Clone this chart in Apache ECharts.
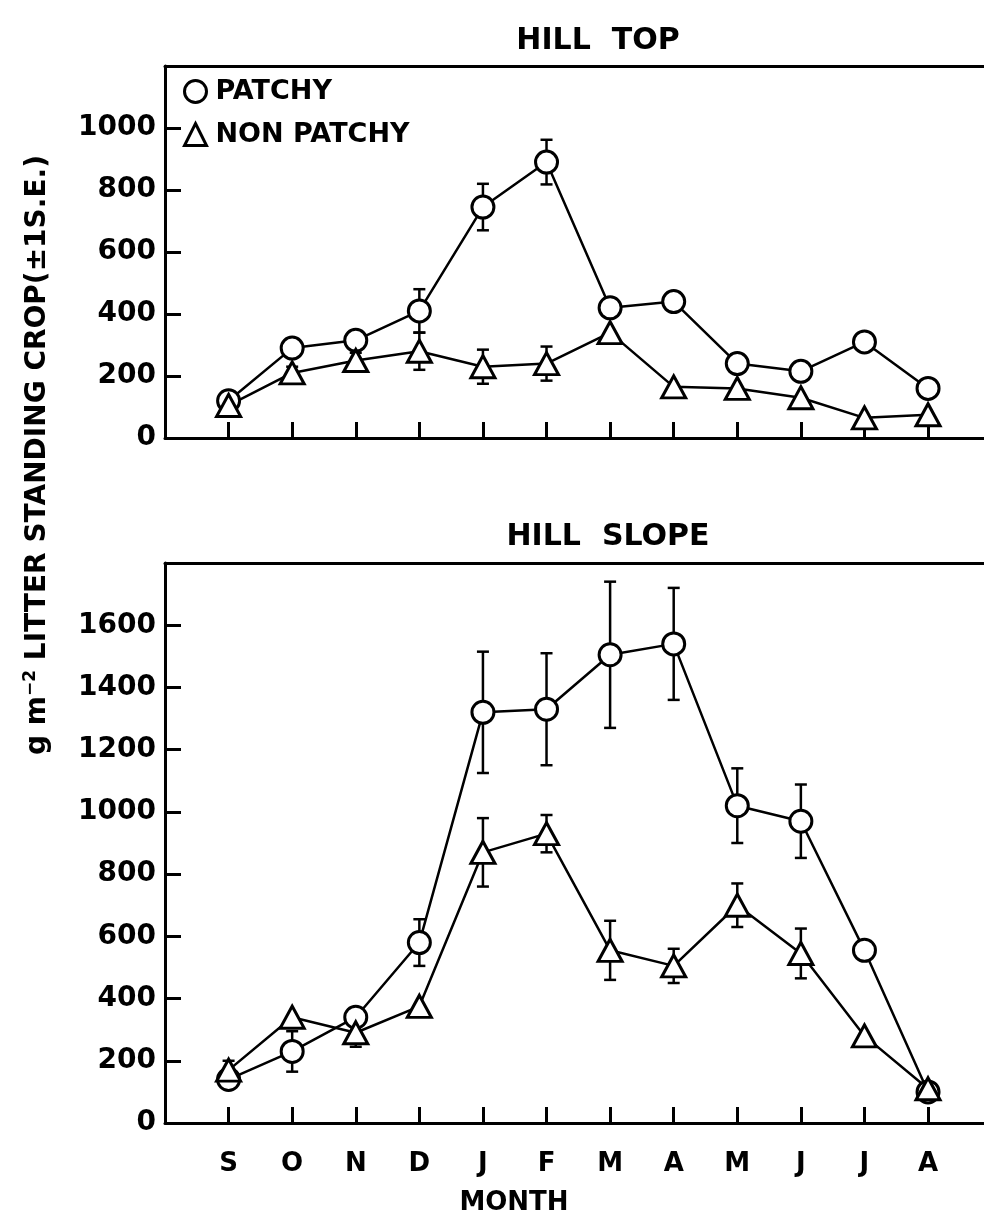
<!DOCTYPE html>
<html><head><meta charset="utf-8">
<script src="https://cdn.jsdelivr.net/npm/echarts@6/dist/echarts.min.js"></script>
<style>html,body{margin:0;padding:0;background:#fff}#c{width:984px;height:1213px}</style>
</head><body><div id="c"></div>
<script>
const months = ['S','O','N','D','J','F','M','A','M','J','J','A'];
const seriesNames = ['PATCHY','NON PATCHY'];
const hillTopPatchy      = [120, 290, 315, 410, 745, 890, 420, 440, 240, 215, 310, 160];
const hillTopPatchySE    = [0, 0, 0, 70, 75, 72, 0, 0, 0, 0, 0, 0];
const hillTopNonPatchy   = [105, 210, 250, 280, 230, 240, 340, 165, 160, 130, 65, 75];
const hillTopNonPatchySE = [0, 20, 25, 60, 55, 55, 0, 0, 0, 0, 0, 0];
const hillSlopePatchy      = [140, 230, 340, 580, 1320, 1330, 1505, 1540, 1020, 970, 555, 100];
const hillSlopePatchySE    = [0, 65, 0, 75, 195, 180, 235, 180, 120, 118, 0, 0];
const hillSlopeNonPatchy   = [170, 340, 290, 375, 870, 930, 555, 505, 700, 545, 280, 110];
const hillSlopeNonPatchySE = [30, 0, 45, 0, 110, 60, 95, 55, 70, 80, 0, 0];

const FONT = 'DejaVu Sans';
const monthIdx = months.map((m,i)=>i);
const chart = echarts.init(document.getElementById('c'), null, {renderer:'canvas'});

function lineSeries(name, vals, symbol, size, gi){
  return {
    name, type:'line', xAxisIndex:gi*2, yAxisIndex:gi, z:3,
    data: vals.map((v,i)=>[i,v]),
    symbol, symbolSize:size, showSymbol:true,
    itemStyle:{color:'#fff', borderColor:'#000', borderWidth:3},
    lineStyle:{color:'#000', width:2.5},
    emphasis:{disabled:true}, silent:true
  };
}
function errSeries(vals, se, gi){
  const data = [];
  vals.forEach((v,i)=>{ if(se[i]>0) data.push([i, v-se[i], v+se[i]]); });
  return {
    type:'custom', xAxisIndex:gi*2, yAxisIndex:gi, z:2, silent:true,
    data, encode:{x:0, y:[1,2]},
    renderItem(params, api){
      const x = api.value(0);
      const lo = api.coord([x, api.value(1)]);
      const hi = api.coord([x, api.value(2)]);
      const w = 6, st = {stroke:'#000', lineWidth:2.5};
      return {type:'group', children:[
        {type:'line', shape:{x1:lo[0],y1:lo[1],x2:hi[0],y2:hi[1]}, style:st},
        {type:'line', shape:{x1:lo[0]-w,y1:lo[1],x2:lo[0]+w,y2:lo[1]}, style:st},
        {type:'line', shape:{x1:hi[0]-w,y1:hi[1],x2:hi[0]+w,y2:hi[1]}, style:st}
      ]};
    }
  };
}
function xAx(gi, showLabels){
  return {
    type:'value', gridIndex:gi, min:-1, max:11.88, position:'bottom',
    axisLine:{show:true, onZero:false, lineStyle:{color:'#000', width:3}},
    axisTick:{show:true, inside:true, length:16, customValues:monthIdx, lineStyle:{color:'#000', width:3}},
    splitLine:{show:false},
    axisLabel:{show:showLabels, customValues:monthIdx, margin:28, color:'#000', fontSize:26, fontWeight:'bold', fontFamily:FONT,
      formatter:v => months[Math.round(v)] || ''}
  };
}
function xTop(gi){
  return {
    type:'value', gridIndex:gi, min:-1, max:11.88, position:'top',
    axisLine:{show:true, onZero:false, lineStyle:{color:'#000', width:3}},
    axisTick:{show:false}, axisLabel:{show:false}, splitLine:{show:false}
  };
}
function yAx(gi, max){
  return {
    type:'value', gridIndex:gi, min:0, max:max, interval:200, position:'left',
    axisLine:{show:true, onZero:false, lineStyle:{color:'#000', width:3}},
    axisTick:{show:true, inside:true, length:16, lineStyle:{color:'#000', width:3}},
    splitLine:{show:false},
    axisLabel:{margin:9, color:'#000', fontSize:28, fontWeight:'bold', fontFamily:FONT,
      formatter:v => v>=max ? '' : String(v)}
  };
}

chart.setOption({
  animation:false,
  backgroundColor:'#fff',
  grid:[
    {left:165, top:66, right:0, height:372, show:false},
    {left:165, top:563, right:0, height:560, show:false}
  ],
  xAxis:[xAx(0,false), xTop(0), xAx(1,true), xTop(1)],
  yAxis:[yAx(0,1200), yAx(1,1800)],
  legend:{
    left:183, top:78, padding:0, orient:'vertical', itemWidth:22, itemHeight:22, itemGap:16,
    selectedMode:false,
    textStyle:{color:'#000', fontSize:27, fontWeight:'bold', fontFamily:FONT, padding:[0,0,0,4]},
    data:[
      {name:seriesNames[0], icon:'circle', itemStyle:{color:'#fff', borderColor:'#000', borderWidth:3}},
      {name:seriesNames[1], icon:'triangle', itemStyle:{color:'#fff', borderColor:'#000', borderWidth:3}}
    ]
  },
  graphic:[
    {type:'text', x:598, y:41, style:{text:'HILL  TOP', font:'bold 30px "DejaVu Sans"', fill:'#000', align:'center', verticalAlign:'middle'}},
    {type:'text', x:608, y:537, style:{text:'HILL  SLOPE', font:'bold 30px "DejaVu Sans"', fill:'#000', align:'center', verticalAlign:'middle'}},
    {type:'text', x:514, y:1203, style:{text:'MONTH', font:'bold 26px "DejaVu Sans"', fill:'#000', align:'center', verticalAlign:'middle'}},
    {type:'text', x:38, y:455, rotation:Math.PI/2, style:{
      text:'g m{sup|−2} LITTER STANDING CROP(±1S.E.)',
      font:'bold 28px "DejaVu Sans"', fill:'#000', align:'center', verticalAlign:'middle',
      rich:{sup:{fontSize:17, fontWeight:'bold', fontFamily:FONT, fill:'#000', padding:[0,0,14,0]}}
    }}
  ],
  series:[
    errSeries(hillTopPatchy, hillTopPatchySE, 0),
    errSeries(hillTopNonPatchy, hillTopNonPatchySE, 0),
    errSeries(hillSlopePatchy, hillSlopePatchySE, 1),
    errSeries(hillSlopeNonPatchy, hillSlopeNonPatchySE, 1),
    lineSeries(seriesNames[0], hillTopPatchy, 'circle', 22, 0),
    lineSeries(seriesNames[1], hillTopNonPatchy, 'triangle', [24,22], 0),
    lineSeries(seriesNames[0], hillSlopePatchy, 'circle', 22, 1),
    lineSeries(seriesNames[1], hillSlopeNonPatchy, 'triangle', [24,22], 1)
  ]
});
</script>
</body></html>
